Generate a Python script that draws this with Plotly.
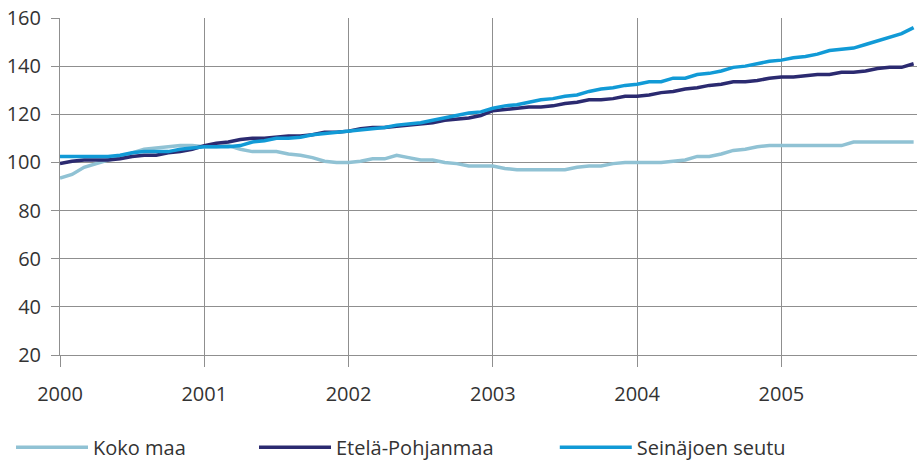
import plotly.graph_objects as go

years = [2000, 2001, 2002, 2003, 2004, 2005]
tick_labels = ["2000", "2001", "2002", "2003", "2004", "2005"]
series_names = ["Koko maa", "Etelä-Pohjanmaa", "Seinäjoen seutu"]

koko_maa = [
    93.5, 95, 98, 99.5, 101, 102, 104, 105.5, 106, 106.5, 107, 107,
    106.5, 106.5, 107, 105.5, 104.5, 104.5, 104.5, 103.5, 103, 102, 100.5, 100,
    100, 100.5, 101.5, 101.5, 103, 102, 101, 101, 100, 99.5, 98.5, 98.5,
    98.5, 97.5, 97, 97, 97, 97, 97, 98, 98.5, 98.5, 99.5, 100,
    100, 100, 100, 100.5, 101, 102.5, 102.5, 103.5, 105, 105.5, 106.5, 107,
    107, 107, 107, 107, 107, 107, 108.5, 108.5, 108.5, 108.5, 108.5, 108.5,
]
etela_pohjanmaa = [
    99.5, 100.5, 101, 101, 101, 101.5, 102.5, 103, 103, 104, 104.5, 105.5,
    107, 108, 108.5, 109.5, 110, 110, 110.5, 111, 111, 111.5, 112.5, 112.5,
    113, 114, 114.5, 114.5, 115, 115.5, 116, 116.5, 117.5, 118, 118.5, 119.5,
    121.5, 122, 122.5, 123, 123, 123.5, 124.5, 125, 126, 126, 126.5, 127.5,
    127.5, 128, 129, 129.5, 130.5, 131, 132, 132.5, 133.5, 133.5, 134, 135,
    135.5, 135.5, 136, 136.5, 136.5, 137.5, 137.5, 138, 139, 139.5, 139.5, 141,
]
seinajoen_seutu = [
    102.5, 102.5, 102.5, 102.5, 102.5, 103, 104, 104.5, 104.5, 104.5, 105.5, 106,
    106.5, 106.5, 106.5, 107, 108.5, 109, 110, 110, 110.5, 111.5, 112, 112.5,
    113, 113.5, 114, 114.5, 115.5, 116, 116.5, 117.5, 118.5, 119.5, 120.5, 121,
    122.5, 123.5, 124, 125, 126, 126.5, 127.5, 128, 129.5, 130.5, 131, 132,
    132.5, 133.5, 133.5, 135, 135, 136.5, 137, 138, 139.5, 140, 141, 142,
    142.5, 143.5, 144, 145, 146.5, 147, 147.5, 149, 150.5, 152, 153.5, 156,
]
colors = ["#90c2d4", "#2b2a70", "#119ad6"]

x = [y + m / 12 for y in years for m in range(12)]

fig = go.Figure()
for i, (name, vals) in enumerate(zip(series_names, [koko_maa, etela_pohjanmaa, seinajoen_seutu])):
    fig.add_trace(go.Scatter(
        x=x, y=vals, mode="lines", name=name,
        line=dict(color=colors[i], width=3.5),
        legend="legend" if i == 0 else f"legend{i+1}",
    ))

font = dict(family="Open Sans, sans-serif", size=20, color="#333333")
grid = "#8f8f8f"
leg_common = dict(orientation="h", yanchor="middle", y=0.034, xanchor="left",
                  xref="container", yref="container",
                  font=font, itemwidth=72, bgcolor="rgba(0,0,0,0)")

fig.update_layout(
    width=917, height=463,
    margin=dict(l=60, r=0, t=18, b=108, autoexpand=False),
    paper_bgcolor="white", plot_bgcolor="white",
    font=font,
    showlegend=True,
    legend=dict(x=0.012, **leg_common),
    legend2=dict(x=0.277, **leg_common),
    legend3=dict(x=0.605, **leg_common),
    xaxis=dict(range=[2000, 2005.94], tickvals=years, ticktext=tick_labels,
               showgrid=True, gridcolor=grid, gridwidth=1,
               ticks="outside", ticklen=11, tickcolor=grid,
               showline=True, linecolor=grid, linewidth=1,
               zeroline=False, ticklabelstandoff=10, automargin=False),
    yaxis=dict(range=[20, 160], tickvals=[20, 40, 60, 80, 100, 120, 140, 160],
               showgrid=True, gridcolor=grid, gridwidth=1,
               ticks="outside", ticklen=8, tickcolor=grid,
               showline=True, linecolor=grid, linewidth=1,
               zeroline=False, ticklabelstandoff=6, automargin=False),
)

fig.write_html("out.html", config={"displayModeBar": False},
               post_script="document.body.style.margin='0';document.body.style.overflow='hidden';")
